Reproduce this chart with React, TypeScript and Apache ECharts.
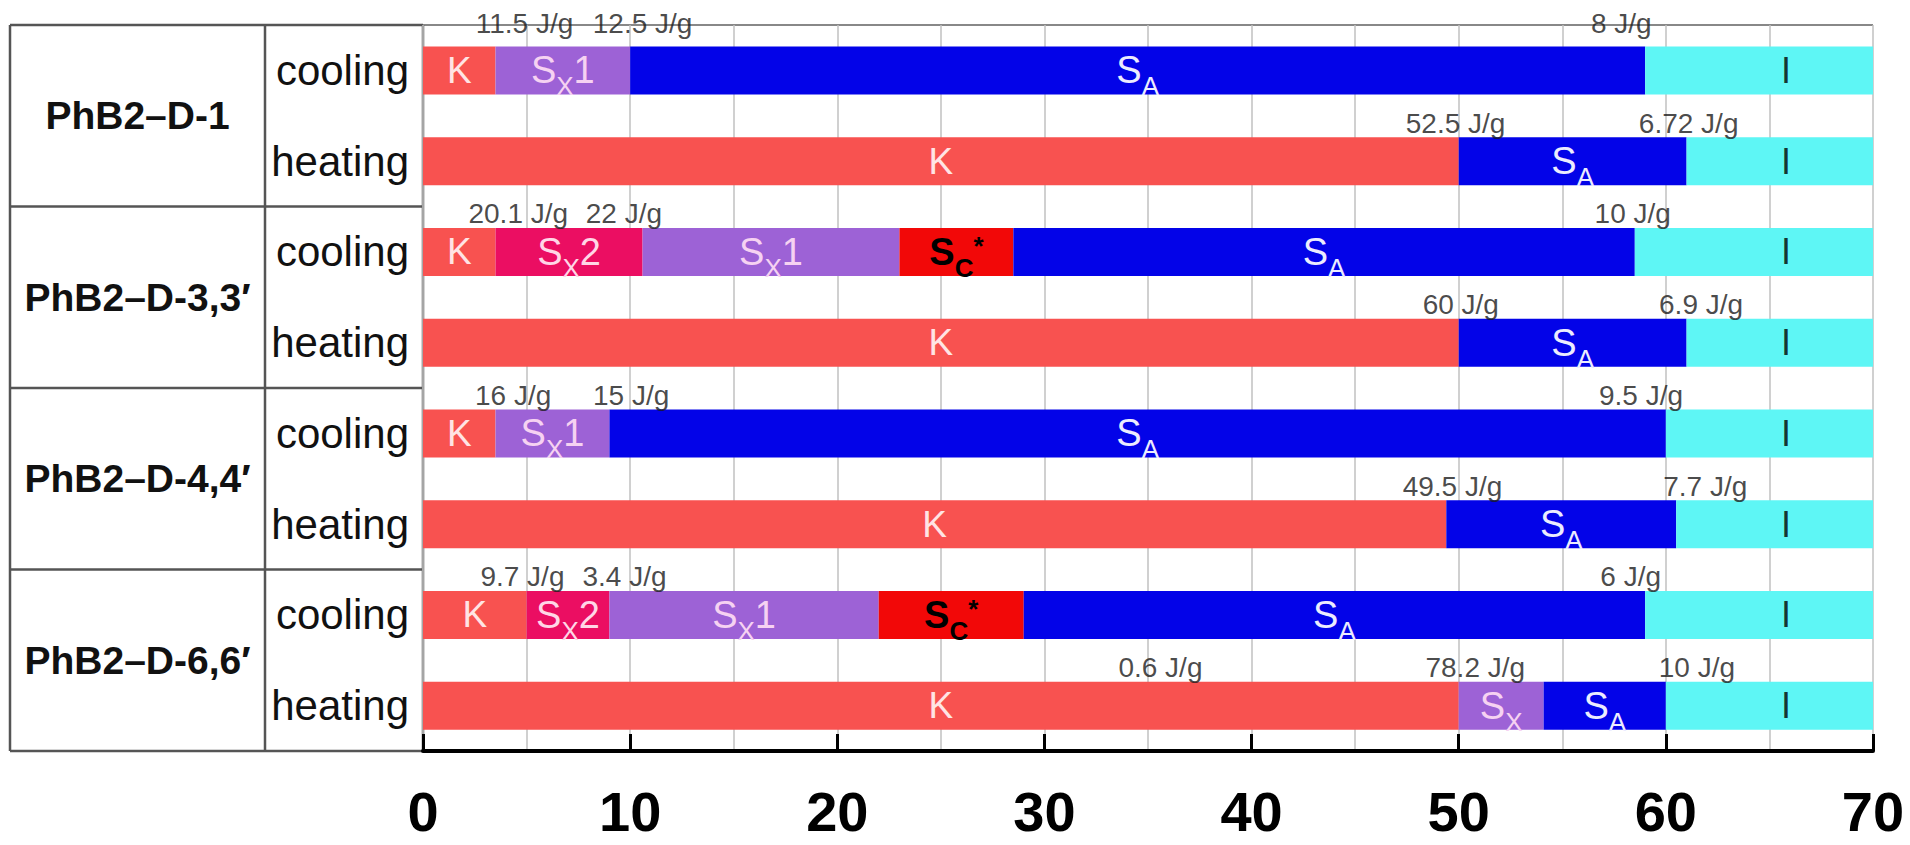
import React, { useEffect, useRef } from 'react';
import * as echarts from 'echarts';

// ---------- data ----------
const rowLabels = ['cooling', 'heating', 'cooling', 'heating', 'cooling', 'heating', 'cooling', 'heating'];
const sampleNames = ['PhB2\u2013D-1', 'PhB2\u2013D-3,3\u2032', 'PhB2\u2013D-4,4\u2032', 'PhB2\u2013D-6,6\u2032'];

// widths (in x units) of each phase segment, per row (stack order K, SX2, SX1, SC*, SA, I)
const kWidth = [3.5, 50, 3.5, 50, 3.5, 49.4, 5, 50];
const sx2Width = [0, 0, 7.1, 0, 0, 0, 4, 0];
const sx1Width = [6.5, 0, 12.4, 0, 5.5, 0, 13, 4.1];
const scWidth = [0, 0, 5.5, 0, 0, 0, 7, 0];
const saWidth = [49, 11, 30, 11, 51, 11.1, 30, 5.9];
const iWidth = [11, 9, 11.5, 9, 10, 9.5, 11, 10];
const sx1Suffix = ['1', '', '1', '', '1', '', '1', ''];

// isotropic label position
const iLabelX = [65.8, 65.8, 65.8, 65.8, 65.8, 65.8, 65.8, 65.8];

// enthalpy annotations
const enthalpyRow = [0, 0, 0, 1, 1, 2, 2, 2, 3, 3, 4, 4, 4, 5, 5, 6, 6, 6, 7, 7, 7];
const enthalpyX = [4.9, 10.6, 57.85, 49.85, 61.1, 4.6, 9.7, 58.4, 50.1, 61.7, 4.35, 10.05, 58.8, 49.7, 61.9, 4.8, 9.73, 58.3, 35.6, 50.8, 61.5];
const enthalpyText = ['11.5 J/g', '12.5 J/g', '8 J/g', '52.5 J/g', '6.72 J/g', '20.1 J/g', '22 J/g', '10 J/g', '60 J/g', '6.9 J/g', '16 J/g', '15 J/g', '9.5 J/g', '49.5 J/g', '7.7 J/g', '9.7 J/g', '3.4 J/g', '6 J/g', '0.6 J/g', '78.2 J/g', '10 J/g'];

const xMin = 0;
const xMax = 70;
const xInterval = 10;

// ---------- layout / style ----------
const W = 1910;
const H = 845;
const GRID = { left: 423, right: 37, top: 25, bottom: 94 };
const TABLE_LEFT = 10;
const COL_DIV = 265;
const FONT = "'Liberation Sans', Arial, Helvetica, sans-serif";

const C = {
  K: '#F85250',
  SX2: '#EB0E62',
  SX1: '#9D62D6',
  SC: '#F20808',
  SA: '#0303E8',
  I: '#5EF6F5',
};

const rich = (color: string, bold = false) => {
  const fw = bold ? 'bold' : 'normal';
  return {
    s: { fontSize: 38, lineHeight: 38, padding: [0, 0, 12, 0], color, fontFamily: FONT, fontWeight: fw },
    sub: { fontSize: 26, lineHeight: 26, padding: [22, 0, 2, 0], color, fontFamily: FONT, fontWeight: fw },
    sup: { fontSize: 26, lineHeight: 26, padding: [0, 0, 24, 0], color, fontFamily: FONT, fontWeight: fw },
  };
};

function barSeries(name: string, data: number[], color: string, label: any) {
  return {
    name,
    type: 'bar',
    stack: 'total',
    data,
    barWidth: 48,
    itemStyle: { color },
    label: { show: true, position: 'inside', ...label },
    emphasis: { disabled: true },
  };
}

export default function App() {
  const ref = useRef<HTMLDivElement>(null);

  useEffect(() => {
    if (!ref.current) return;
    const chart = echarts.init(ref.current, null, { renderer: 'svg' });

    const plotBottom = H - GRID.bottom;
    const groupH = (plotBottom - GRID.top) / sampleNames.length;
    const tableStroke = { stroke: '#555', lineWidth: 2.5 };

    const graphic: any[] = [];
    for (let k = 0; k <= sampleNames.length; k++) {
      const y = GRID.top + k * groupH;
      graphic.push({ type: 'line', z: -1, shape: { x1: TABLE_LEFT, y1: y, x2: GRID.left, y2: y }, style: tableStroke });
    }
    graphic.push({ type: 'line', z: -1, shape: { x1: GRID.left, y1: GRID.top, x2: W - GRID.right, y2: GRID.top }, style: { stroke: '#888', lineWidth: 2 } });
    [TABLE_LEFT, COL_DIV, GRID.left].forEach((x) => {
      graphic.push({ type: 'line', z: -1, shape: { x1: x, y1: GRID.top, x2: x, y2: plotBottom }, style: tableStroke });
    });
    sampleNames.forEach((n, i) => {
      graphic.push({
        type: 'text',
        x: (TABLE_LEFT + COL_DIV) / 2,
        y: GRID.top + groupH * (i + 0.5),
        style: { text: n, fontSize: 39, fontWeight: 'bold', fontFamily: FONT, fill: '#111', align: 'center', verticalAlign: 'middle' },
      });
    });

    const nz = (f: (p: any) => string) => (p: any) => (p.value > 0 ? f(p) : '');

    const option: any = {
      animation: false,
      backgroundColor: '#ffffff',
      grid: { ...GRID, containLabel: false },
      xAxis: {
        type: 'value',
        min: xMin,
        max: xMax,
        interval: xInterval,
        axisLine: { show: true, lineStyle: { color: '#000', width: 4 } },
        axisTick: { show: true, inside: true, length: 17, lineStyle: { color: '#000', width: 3 } },
        minorTick: { show: false, splitNumber: 2 },
        axisLabel: { fontSize: 56, fontWeight: 'bold', color: '#000', fontFamily: FONT, margin: 32 },
        splitLine: { show: true, lineStyle: { color: '#c0c0c0', width: 1.5 } },
        minorSplitLine: { show: true, lineStyle: { color: '#c0c0c0', width: 1.5 } },
      },
      yAxis: {
        type: 'category',
        inverse: true,
        data: rowLabels,
        axisLine: { show: false },
        axisTick: { show: false },
        splitLine: { show: false },
        axisLabel: { fontSize: 42, color: '#111', fontFamily: FONT, margin: 14 },
      },
      graphic,
      series: [
        barSeries('K', kWidth, C.K, {
          formatter: nz(() => 'K'),
          fontSize: 37,
          color: '#FFE4E4',
          fontFamily: FONT,
        }),
        barSeries('SX2', sx2Width, C.SX2, {
          formatter: nz(() => '{s|S}{sub|X}{s|2}'),
          rich: rich('#FFD6E6'),
          offset: [0, 6],
        }),
        barSeries('SX1', sx1Width, C.SX1, {
          formatter: nz((p) => '{s|S}{sub|X}' + (sx1Suffix[p.dataIndex] ? '{s|' + sx1Suffix[p.dataIndex] + '}' : '')),
          rich: rich('#F6D2F2'),
          offset: [0, 6],
        }),
        barSeries('SC', scWidth, C.SC, {
          formatter: nz(() => '{s|S}{sub|C}{sup|*}'),
          rich: rich('#000', true),
          offset: [0, 6],
        }),
        barSeries('SA', saWidth, C.SA, {
          formatter: nz(() => '{s|S}{sub|A}'),
          rich: rich('#ECECFF'),
          offset: [0, 6],
        }),
        barSeries('I', iWidth, C.I, { show: false }),
        {
          name: 'I label',
          type: 'scatter',
          symbolSize: 1,
          itemStyle: { color: 'rgba(0,0,0,0)' },
          data: iLabelX.map((x, r) => [x, r]),
          label: { show: true, position: 'inside', formatter: 'I', fontSize: 36, color: '#000', fontFamily: FONT },
          z: 5,
        },
        {
          name: 'enthalpy',
          type: 'scatter',
          symbolSize: 1,
          itemStyle: { color: 'rgba(0,0,0,0)' },
          data: enthalpyX.map((x, i) => ({
            value: [x, enthalpyRow[i]],
            name: enthalpyText[i],
            label: enthalpyRow[i] === 0 ? { offset: [0, -47] } : undefined,
          })),
          label: {
            show: true,
            position: 'inside',
            formatter: (p: any) => p.name,
            fontSize: 28,
            color: '#1a1a1a',
            fontFamily: FONT,
            offset: [0, -38],
          },
          z: 6,
        },
      ],
    };

    chart.setOption(option);
    return () => chart.dispose();
  }, []);

  return (
    <div
      ref={ref}
      style={{ position: 'fixed', left: 0, top: 0, width: W, height: H, background: '#fff' }}
    />
  );
}
